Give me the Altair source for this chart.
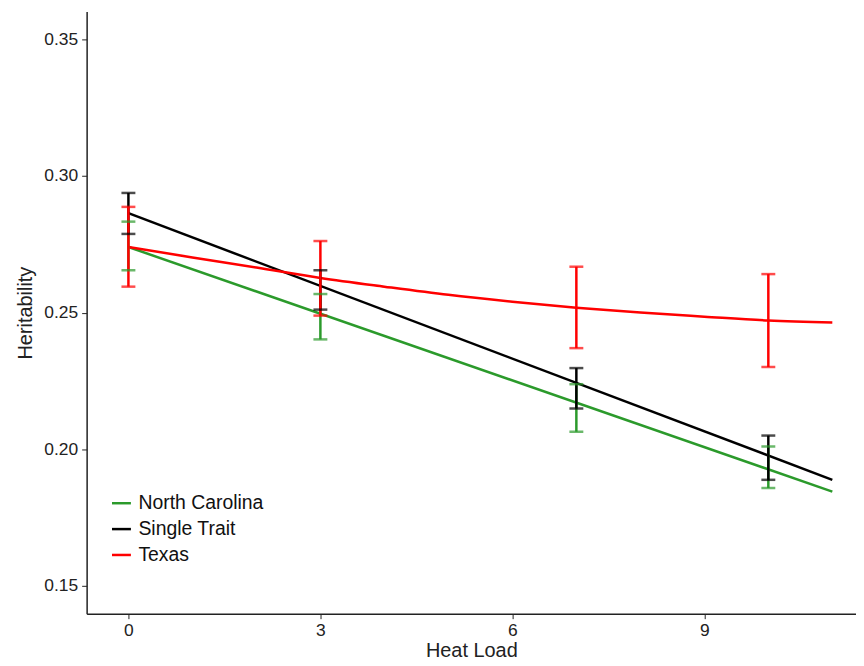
import altair as alt
import pandas as pd

groups = ["North Carolina", "Single Trait", "Texas"]
colors = ["#2b9a2b", "#000000", "#ff0000"]

# fitted lines
line_x = {
    "North Carolina": [0, 11],
    "Single Trait": [0, 11],
    "Texas": [0, 1, 2, 3, 4, 5, 6, 7, 8, 9, 10, 11],
}
line_y = {
    "North Carolina": [0.274, 0.1845],
    "Single Trait": [0.2864, 0.1888],
    "Texas": [0.274, 0.2702, 0.2665, 0.2627, 0.2595, 0.2565, 0.254, 0.2518, 0.2500, 0.2485, 0.2471, 0.2464],
}

# error bars
eb_x = [0, 3, 7, 10]
eb_lo = {
    "North Carolina": [0.2655, 0.2402, 0.2064, 0.1858],
    "Single Trait": [0.2788, 0.2511, 0.2149, 0.1888],
    "Texas": [0.2595, 0.2489, 0.2370, 0.2301],
}
eb_hi = {
    "North Carolina": [0.2833, 0.2568, 0.2238, 0.2010],
    "Single Trait": [0.2938, 0.2655, 0.2297, 0.2050],
    "Texas": [0.2887, 0.2762, 0.2668, 0.2641],
}

lines = pd.DataFrame(
    [{"g": g, "x": x, "y": y} for g in groups for x, y in zip(line_x[g], line_y[g])]
)
bars = pd.DataFrame(
    [
        {"g": g, "x": x, "lo": lo, "hi": hi}
        for g in groups
        for x, lo, hi in zip(eb_x, eb_lo[g], eb_hi[g])
    ]
)

xs = alt.Scale(domain=[-0.653, 11.37], nice=False, zero=False)
ys = alt.Scale(domain=[0.1398, 0.3602], nice=False, zero=False)
cs = alt.Scale(domain=groups, range=colors)

xax = alt.Axis(
    values=[0, 3, 6, 9], format="d", title="Heat Load", grid=False, labelFontSize=17.5,
    titleFontSize=20, labelColor="#222", titleColor="#222", domainColor="#222",
    tickColor="#222", domainWidth=1.5, tickSize=5, labelPadding=3, titlePadding=2,
    titleFontWeight="normal", labelFont="Liberation Sans", titleFont="Liberation Sans",
)
yax = alt.Axis(
    values=[0.15, 0.2, 0.25, 0.3, 0.35], format=".2f", title="Heritability",
    grid=False, labelFontSize=17.5, titleFontSize=20, labelColor="#222",
    titleColor="#222", domainColor="#222", tickColor="#222", domainWidth=1.5,
    tickSize=5, labelPadding=4, titlePadding=8, titleFontWeight="normal",
    labelFont="Liberation Sans", titleFont="Liberation Sans",
)

legend = alt.Legend(
    title=None, orient="none", legendX=24, legendY=483, symbolType="stroke",
    symbolStrokeWidth=2.5, symbolSize=360, labelFontSize=19.5, rowPadding=5,
    labelFont="Liberation Sans", labelColor="#111", labelOffset=6,
)

line_layer = alt.Chart(lines).mark_line(strokeWidth=2.5, interpolate="monotone").encode(
    x=alt.X("x:Q", scale=xs, axis=xax),
    y=alt.Y("y:Q", scale=ys, axis=yax),
    color=alt.Color("g:N", scale=cs, legend=legend),
    detail="g:N",
)

rule_layer = alt.Chart(bars).mark_rule(strokeWidth=2.5).encode(
    x=alt.X("x:Q", scale=xs),
    y=alt.Y("lo:Q", scale=ys),
    y2="hi:Q",
    color=alt.Color("g:N", scale=cs, legend=None),
)
tick_lo = alt.Chart(bars).mark_tick(orient="horizontal", size=14, thickness=2.5).encode(
    x=alt.X("x:Q", scale=xs),
    y=alt.Y("lo:Q", scale=ys),
    color=alt.Color("g:N", scale=cs, legend=None),
)
tick_hi = alt.Chart(bars).mark_tick(orient="horizontal", size=14, thickness=2.5).encode(
    x=alt.X("x:Q", scale=xs),
    y=alt.Y("hi:Q", scale=ys),
    color=alt.Color("g:N", scale=cs, legend=None),
)

chart = (
    alt.layer(line_layer, rule_layer, tick_lo, tick_hi)
    .properties(
        width=773, height=605,
        autosize=alt.AutoSizeParams(type="none"),
        padding={"left": 79, "top": 2, "right": 0, "bottom": 50},
    )
    .configure_view(stroke=None)
)

chart.save("out.html", embed_options={"renderer": "svg", "actions": False})
